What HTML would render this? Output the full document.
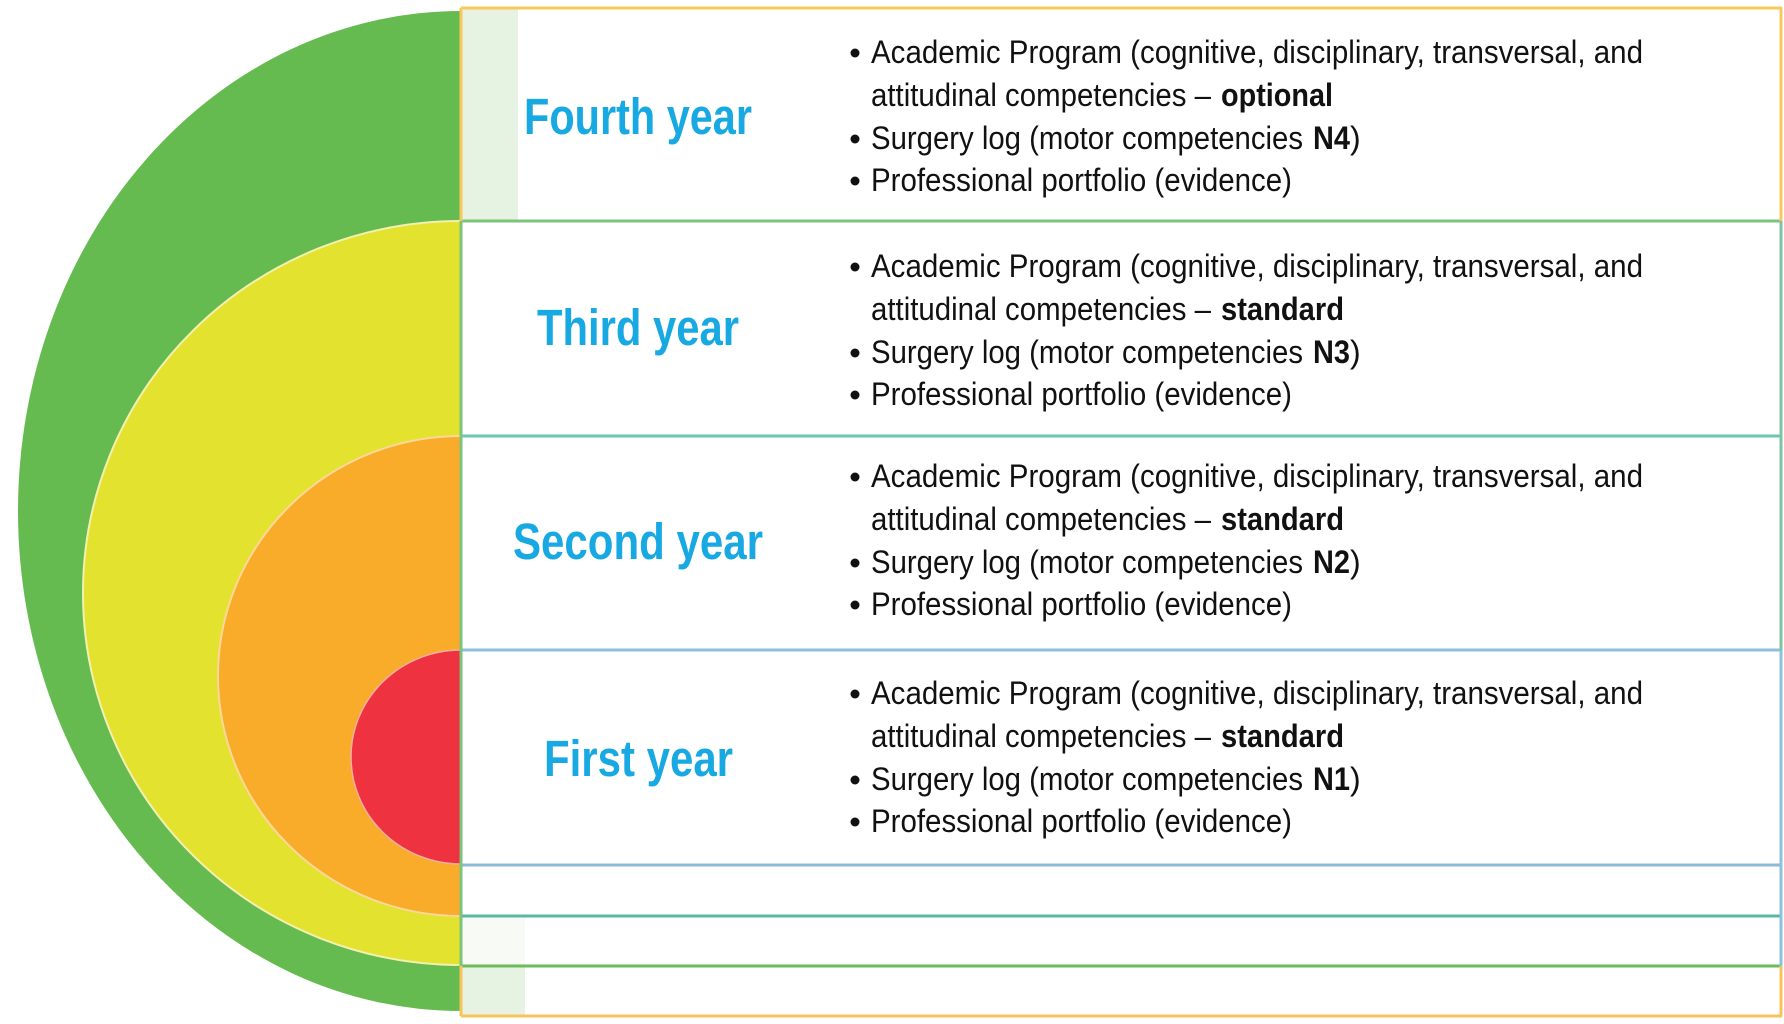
<!DOCTYPE html>
<html><head><meta charset="utf-8"><style>html,body{margin:0;padding:0;background:#fff;}svg{display:block}</style></head>
<body>
<svg width="1784" height="1024" viewBox="0 0 1784 1024" xmlns="http://www.w3.org/2000/svg">
<defs><clipPath id="c"><rect x="0" y="0" width="461" height="1024"/></clipPath></defs>
<g clip-path="url(#c)">
<ellipse cx="461" cy="511" rx="443" ry="500" fill="#66bb50"/>
<ellipse cx="461" cy="593" rx="378" ry="372" fill="#e3e22f" stroke="#f3f0b0" stroke-width="2"/>
<ellipse cx="461" cy="676" rx="243" ry="240" fill="#f9ab2a" stroke="#fbd79a" stroke-width="2"/>
<ellipse cx="461" cy="757" rx="110" ry="107" fill="#ee3240" stroke="#f8b0a0" stroke-width="1.5"/>
</g>
<rect x="461" y="7" width="1320" height="1009" fill="#fff"/>
<rect x="461" y="8" width="57" height="212" fill="#e6f2e2"/>
<rect x="461" y="967" width="64" height="48" fill="#e6f2e2"/>
<rect x="461" y="916" width="64" height="49" fill="#f7faf5"/>
<g fill="none" stroke-width="3">
<line x1="461" y1="8" x2="1782" y2="8" stroke="#f8c85c"/>
<line x1="461" y1="221" x2="1782" y2="221" stroke="#7cc47a"/>
<line x1="461" y1="436" x2="1782" y2="436" stroke="#6cc7b0"/>
<line x1="461" y1="650" x2="1782" y2="650" stroke="#8ec0dc"/>
<line x1="461" y1="865" x2="1782" y2="865" stroke="#8ab9d9"/>
<line x1="461" y1="916" x2="1782" y2="916" stroke="#5bb8a0"/>
<line x1="461" y1="966" x2="1782" y2="966" stroke="#6dbb5c"/>
<line x1="461" y1="1016" x2="1782" y2="1016" stroke="#f8c35a"/>
<line x1="461" y1="8" x2="461" y2="221" stroke="#f8c85c"/>
<line x1="461" y1="221" x2="461" y2="966" stroke="#7cc47a"/>
<line x1="461" y1="966" x2="461" y2="1016" stroke="#f8c35a"/>
<line x1="1781" y1="8" x2="1781" y2="221" stroke="#f8c85c"/>
<line x1="1781" y1="221" x2="1781" y2="650" stroke="#7cc4a0"/>
<line x1="1781" y1="650" x2="1781" y2="966" stroke="#8ec0dc"/>
<line x1="1781" y1="966" x2="1781" y2="1016" stroke="#f8c35a"/>
</g>
<g font-family="Liberation Sans, sans-serif" font-weight="bold" font-size="51" fill="#19a9e2">
<text x="524" y="134" textLength="228" lengthAdjust="spacingAndGlyphs">Fourth year</text>
<text x="537" y="345" textLength="202" lengthAdjust="spacingAndGlyphs">Third year</text>
<text x="513" y="559" textLength="250" lengthAdjust="spacingAndGlyphs">Second year</text>
<text x="544" y="776" textLength="189" lengthAdjust="spacingAndGlyphs">First year</text>
</g>
<g font-family="Liberation Sans, sans-serif" font-size="32" fill="#111">
<g transform="translate(0,63)">
<circle cx="855" cy="-10" r="4.5"/>
<text x="871" y="0" textLength="772" lengthAdjust="spacingAndGlyphs">Academic Program (cognitive, disciplinary, transversal, and</text>
<text x="871" y="43" textLength="340" lengthAdjust="spacingAndGlyphs">attitudinal competencies –</text>
<text x="1221" y="43" font-weight="bold" textLength="112" lengthAdjust="spacingAndGlyphs">optional</text>
<circle cx="855" cy="76" r="4.5"/>
<text x="871" y="86" textLength="432" lengthAdjust="spacingAndGlyphs">Surgery log (motor competencies</text>
<text x="1313" y="86" font-weight="bold" textLength="37" lengthAdjust="spacingAndGlyphs">N4</text>
<text x="1350" y="86">)</text>
<circle cx="855" cy="118" r="4.5"/>
<text x="871" y="128" textLength="421" lengthAdjust="spacingAndGlyphs">Professional portfolio (evidence)</text>
</g>
<g transform="translate(0,277)">
<circle cx="855" cy="-10" r="4.5"/>
<text x="871" y="0" textLength="772" lengthAdjust="spacingAndGlyphs">Academic Program (cognitive, disciplinary, transversal, and</text>
<text x="871" y="43" textLength="340" lengthAdjust="spacingAndGlyphs">attitudinal competencies –</text>
<text x="1221" y="43" font-weight="bold" textLength="123" lengthAdjust="spacingAndGlyphs">standard</text>
<circle cx="855" cy="76" r="4.5"/>
<text x="871" y="86" textLength="432" lengthAdjust="spacingAndGlyphs">Surgery log (motor competencies</text>
<text x="1313" y="86" font-weight="bold" textLength="37" lengthAdjust="spacingAndGlyphs">N3</text>
<text x="1350" y="86">)</text>
<circle cx="855" cy="118" r="4.5"/>
<text x="871" y="128" textLength="421" lengthAdjust="spacingAndGlyphs">Professional portfolio (evidence)</text>
</g>
<g transform="translate(0,487)">
<circle cx="855" cy="-10" r="4.5"/>
<text x="871" y="0" textLength="772" lengthAdjust="spacingAndGlyphs">Academic Program (cognitive, disciplinary, transversal, and</text>
<text x="871" y="43" textLength="340" lengthAdjust="spacingAndGlyphs">attitudinal competencies –</text>
<text x="1221" y="43" font-weight="bold" textLength="123" lengthAdjust="spacingAndGlyphs">standard</text>
<circle cx="855" cy="76" r="4.5"/>
<text x="871" y="86" textLength="432" lengthAdjust="spacingAndGlyphs">Surgery log (motor competencies</text>
<text x="1313" y="86" font-weight="bold" textLength="37" lengthAdjust="spacingAndGlyphs">N2</text>
<text x="1350" y="86">)</text>
<circle cx="855" cy="118" r="4.5"/>
<text x="871" y="128" textLength="421" lengthAdjust="spacingAndGlyphs">Professional portfolio (evidence)</text>
</g>
<g transform="translate(0,704)">
<circle cx="855" cy="-10" r="4.5"/>
<text x="871" y="0" textLength="772" lengthAdjust="spacingAndGlyphs">Academic Program (cognitive, disciplinary, transversal, and</text>
<text x="871" y="43" textLength="340" lengthAdjust="spacingAndGlyphs">attitudinal competencies –</text>
<text x="1221" y="43" font-weight="bold" textLength="123" lengthAdjust="spacingAndGlyphs">standard</text>
<circle cx="855" cy="76" r="4.5"/>
<text x="871" y="86" textLength="432" lengthAdjust="spacingAndGlyphs">Surgery log (motor competencies</text>
<text x="1313" y="86" font-weight="bold" textLength="37" lengthAdjust="spacingAndGlyphs">N1</text>
<text x="1350" y="86">)</text>
<circle cx="855" cy="118" r="4.5"/>
<text x="871" y="128" textLength="421" lengthAdjust="spacingAndGlyphs">Professional portfolio (evidence)</text>
</g>
</g>
</svg>
</body></html>
